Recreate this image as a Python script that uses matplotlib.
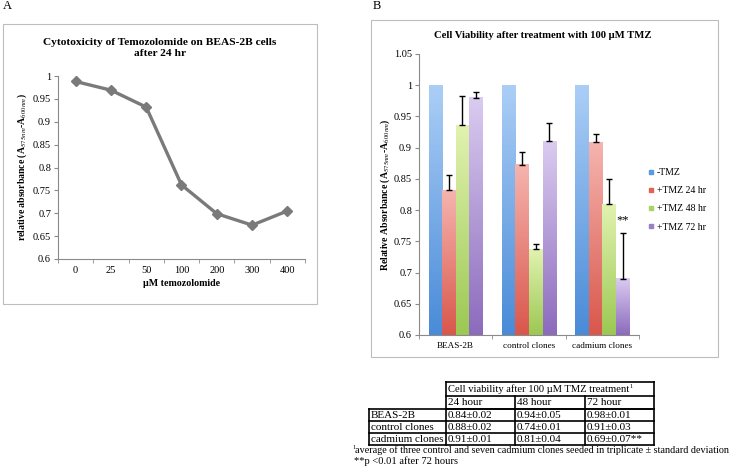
import numpy as np
import matplotlib
matplotlib.use("Agg")
import matplotlib.pyplot as plt
from matplotlib.colors import LinearSegmentedColormap
from matplotlib.patches import Rectangle
from matplotlib.lines import Line2D

plt.rcParams['font.family'] = ['Liberation Serif', 'DejaVu Serif']
plt.rcParams['mathtext.fontset'] = 'stix'

# ---- panel A data
doses = ['0', '25', '50', '100', '200', '300', '400']
absorb = [0.988, 0.969, 0.932, 0.762, 0.699, 0.674, 0.705]

# ---- panel B data
groups = ['BEAS-2B', 'control clones', 'cadmium clones']
series = ['-TMZ', '+TMZ 24 hr', '+TMZ 48 hr', '+TMZ 72 hr']
ctrl = [1.0, 1.0, 1.0]
tmz24 = [0.832, 0.873, 0.909]
tmz48 = [0.936, 0.737, 0.809]
tmz72 = [0.980, 0.910, 0.690]
err_ctrl = [0.0, 0.0, 0.0]
err24 = [0.025, 0.020, 0.013]
err48 = [0.047, 0.008, 0.041]
err72 = [0.009, 0.030, 0.074]

# ---- table data
tab_title = 'Cell viability after 100 \u00b5M TMZ treatment'
tab_cols = ['24 hour', '48 hour', '72 hour']
tab_rows = ['BEAS-2B', 'control clones', 'cadmium clones']
tab_vals = [['0.84\u00b10.02', '0.94\u00b10.05', '0.98\u00b10.01'],
            ['0.88\u00b10.02', '0.74\u00b10.01', '0.91\u00b10.03'],
            ['0.91\u00b10.01', '0.81\u00b10.04', '0.69\u00b10.07**']]
foot1 = 'average of three control and seven cadmium clones seeded in triplicate \u00b1 standard deviation'
foot2 = '**p <0.01 after 72 hours'

W, H = 750, 475
fig = plt.figure(figsize=(7.5, 4.75), dpi=100)

def fx(px):
    return px / W

def fy(py):
    return 1 - py / H

spine_c = '#8a8a8a'

def excel_axes(ax):
    for s in ['top', 'right']:
        ax.spines[s].set_visible(False)
    for s in ['left', 'bottom']:
        ax.spines[s].set_color(spine_c)
        ax.spines[s].set_linewidth(0.8)
    ax.tick_params(axis='y', direction='out', length=3, color=spine_c, labelsize=7.5, pad=2)
    ax.tick_params(axis='x', which='major', length=0, labelsize=7.5, pad=5)
    ax.tick_params(axis='x', which='minor', direction='out', length=3, color=spine_c)

# ================= panel A
axA = fig.add_axes([fx(58), fy(259), fx(305 - 58), fy(76) - fy(259)])
xa = np.arange(len(doses))
axA.plot(xa, absorb, color='#7a7a7a', lw=2.4, marker='D', ms=5.5,
         mfc='#7a7a7a', mec='#7a7a7a', zorder=3)
axA.set_xlim(-0.5, len(doses) - 0.5)
axA.set_ylim(0.6, 1.0)
axA.set_yticks(np.arange(0.6, 1.001, 0.05))
axA.set_yticklabels(['0.6', '0.65', '0.7', '0.75', '0.8', '0.85', '0.9', '0.95', '1'])
axA.set_xticks(xa)
axA.set_xticklabels(doses)
axA.set_xticks(np.arange(-0.5, len(doses)), minor=True)
excel_axes(axA)
axA.set_xlabel('\u00b5M temozolomide', fontsize=7.2, fontweight='bold', labelpad=3)
axA.set_ylabel('relative absorbance (A$_{575nm}$-A$_{600nm}$)', fontsize=7,
               fontweight='bold', labelpad=3)
fig.text(fx(160), fy(48), 'Cytotoxicity of Temozolomide on BEAS-2B cells\nafter 24 hr',
         ha='center', va='center', fontsize=8.2, fontweight='bold', linespacing=1.3)

# ================= panel B
axB = fig.add_axes([fx(419), fy(335), fx(639 - 419), fy(54) - fy(335)])
xb = np.arange(len(groups))
bw = 0.185
vals = [ctrl, tmz24, tmz48, tmz72]
errs = [err_ctrl, err24, err48, err72]
c_top = ['#abcef6', '#f5b4ae', '#e1f2b0', '#dacbf0']
c_bot = ['#4a8bd8', '#d9574c', '#9cc853', '#8c6bbd']
c_leg = ['#5b9ae0', '#e0635a', '#a9d465', '#9b7fc6']
ymin = 0.6
for i in range(4):
    pos = xb + (i - 1.5) * bw
    bars = axB.bar(pos, vals[i], bw, color=c_leg[i], zorder=2)
    cmap = LinearSegmentedColormap.from_list('g%d' % i, [c_bot[i], c_top[i]])
    for r in bars:
        r.set_visible(False)
        x0 = r.get_x()
        axB.imshow(np.linspace(0, 1, 100).reshape(-1, 1), origin='lower', cmap=cmap,
                   extent=[x0, x0 + r.get_width(), ymin, r.get_height()],
                   aspect='auto', zorder=2)
    if i > 0:
        axB.errorbar(pos, vals[i], yerr=[np.zeros(len(groups)), errs[i]], fmt='none',
                     ecolor='black', elinewidth=1, capsize=2.5, capthick=1, zorder=3)
# significance mark above cadmium 72 hr
axB.text(xb[2] + 1.5 * bw, tmz72[2] + err72[2] + 0.019, '**', ha='center', va='center',
         fontsize=9)
axB.set_xlim(-0.5, len(groups) - 0.5)
axB.set_ylim(0.6, 1.05)
axB.set_yticks(np.arange(0.6, 1.051, 0.05))
axB.set_yticklabels(['0.6', '0.65', '0.7', '0.75', '0.8', '0.85', '0.9', '0.95', '1', '1.05'])
axB.set_xticks(xb)
axB.set_xticklabels(groups)
axB.set_xticks(np.arange(-0.5, len(groups)), minor=True)
excel_axes(axB)
axB.tick_params(axis='x', labelsize=6.6)
axB.set_ylabel('Relative Absorbance (A$_{575nm}$-A$_{600nm}$)', fontsize=7,
               fontweight='bold', labelpad=1)
fig.text(fx(543), fy(36), 'Cell Viability after treatment with 100 \u00b5M TMZ',
         ha='center', va='center', fontsize=7.7, fontweight='bold')
handles = [Line2D([], [], ls='none', marker='s', ms=3.5, mfc=c, mec=c) for c in c_leg]
fig.legend(handles, series, loc='upper left', bbox_to_anchor=(fx(649), fy(168)),
           frameon=False, fontsize=7, handlelength=0.5, handletextpad=0.3,
           labelspacing=0.95, borderaxespad=0, borderpad=0)

# ================= overlay: panel labels, frames, table
ov = fig.add_axes([0, 0, 1, 1])
ov.set_xlim(0, W)
ov.set_ylim(H, 0)
ov.axis('off')
ov.text(3, 6, 'A', fontsize=9, va='center', ha='left')
ov.text(373, 6, 'B', fontsize=9, va='center', ha='left')
ov.add_patch(Rectangle((3, 24), 314, 280, fill=False, ec='#bdbdbd', lw=0.8))
ov.add_patch(Rectangle((371, 20), 347, 337, fill=False, ec='#bdbdbd', lw=0.8))

col_x = [369, 446, 515, 585, 654]
row_y = [382, 396, 409, 421, 433, 445]
lw = 1.2
# header rows span value columns only
for yy in row_y[:3]:
    ov.plot([col_x[1], col_x[4]], [yy, yy], color='black', lw=lw)
for yy in row_y[2:]:
    ov.plot([col_x[0], col_x[4]], [yy, yy], color='black', lw=lw)
ov.plot([col_x[1], col_x[1]], [row_y[0], row_y[-1]], color='black', lw=lw)
ov.plot([col_x[4], col_x[4]], [row_y[0], row_y[-1]], color='black', lw=lw)
ov.plot([col_x[0], col_x[0]], [row_y[2], row_y[-1]], color='black', lw=lw)
for cx in col_x[2:4]:
    ov.plot([cx, cx], [row_y[1], row_y[-1]], color='black', lw=lw)
fs = 8
t = ov.text(col_x[1] + 2, (row_y[0] + row_y[1]) / 2, tab_title, fontsize=7.6, va='center')
ov.annotate('1', xy=(1, 1), xycoords=t, xytext=(0.5, 0), textcoords='offset points',
            fontsize=4.5, va='top', ha='left')
for j, c in enumerate(tab_cols):
    ov.text(col_x[j + 1] + 2, (row_y[1] + row_y[2]) / 2, c, fontsize=fs, va='center')
for i, r in enumerate(tab_rows):
    yc = (row_y[i + 2] + row_y[i + 3]) / 2
    ov.text(col_x[0] + 2, yc, r, fontsize=fs, va='center')
    for j in range(3):
        ov.text(col_x[j + 1] + 2, yc, tab_vals[i][j], fontsize=fs, va='center')
ov.text(352, 447.5, '1', fontsize=4.5, va='center')
ov.text(355, 450, foot1, fontsize=7.3, va='center')
ov.text(354, 461, foot2, fontsize=7.6, va='center')

fig.savefig('out.png', dpi=100)
